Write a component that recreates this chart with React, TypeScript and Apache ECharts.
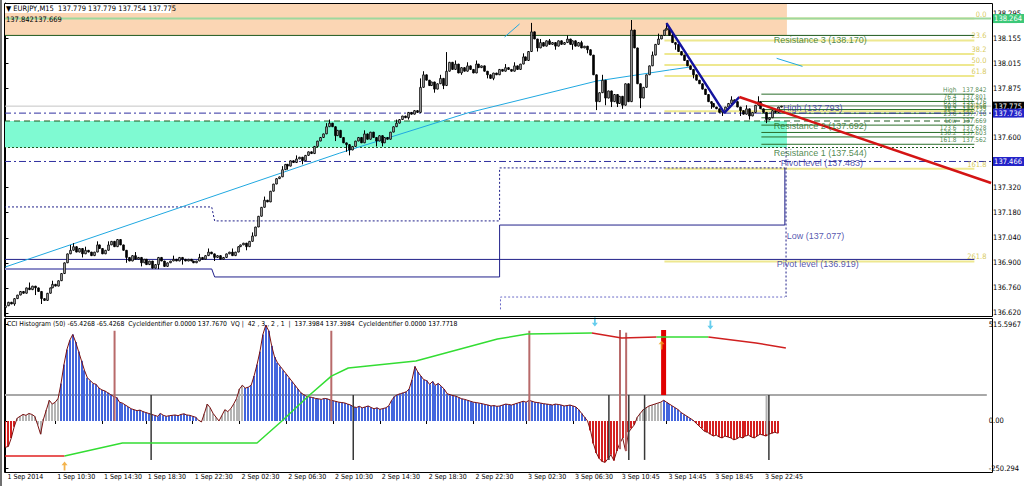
import React, { useEffect, useRef } from "react";
import * as echarts from "echarts";

// ---------------- data ----------------
const closes = [
  136.66, 136.68, 136.67, 136.70, 136.72, 136.74, 136.73, 136.76, 136.75, 136.77,
  136.76, 136.74, 136.70, 136.69, 136.73, 136.76, 136.78, 136.77, 136.80, 136.84,
  136.90, 136.95, 136.97, 136.99, 136.96, 136.98, 136.95, 136.97, 136.96, 136.94,
  136.96, 137.00, 136.98, 136.95, 136.97, 137.00, 137.02, 136.99, 137.03, 137.00,
  136.97, 136.93, 136.91, 136.94, 136.92, 136.93, 136.90, 136.92, 136.89, 136.91,
  136.87, 136.89, 136.93, 136.91, 136.88, 136.90, 136.91, 136.92, 136.91, 136.93,
  136.92, 136.91, 136.92, 136.91, 136.90, 136.91, 136.93, 136.92, 136.94, 136.96,
  136.95, 136.93, 136.94, 136.92, 136.93, 136.95, 136.96, 136.94, 136.96, 136.99,
  137.00, 137.01, 136.99, 137.02, 137.05, 137.10, 137.16, 137.21, 137.25, 137.24,
  137.30, 137.34, 137.37, 137.38, 137.42, 137.45, 137.44, 137.47, 137.46, 137.48,
  137.49, 137.47, 137.50, 137.52, 137.51, 137.55, 137.58, 137.60, 137.62, 137.66,
  137.68, 137.66, 137.61, 137.64, 137.60, 137.57, 137.56, 137.53, 137.55, 137.58,
  137.60, 137.57, 137.62, 137.59, 137.63, 137.60, 137.58, 137.61, 137.57, 137.60,
  137.59, 137.63, 137.66, 137.68, 137.70, 137.72, 137.71, 137.74, 137.73, 137.75,
  137.74, 137.88, 137.95, 137.92, 137.89, 137.91, 137.87, 137.90, 137.93, 137.89,
  137.97, 138.02, 137.98, 138.01, 137.96, 137.99, 137.97, 138.00, 137.98, 137.96,
  138.01, 137.99, 138.00, 137.97, 137.95, 137.93, 137.96, 137.95, 137.98, 137.97,
  137.99, 137.98, 137.97, 138.00, 137.98, 138.01, 138.05, 138.03, 138.08, 138.19,
  138.15, 138.10, 138.13, 138.11, 138.14, 138.12, 138.13, 138.11, 138.14, 138.12,
  138.13, 138.15, 138.12, 138.14, 138.11, 138.13, 138.10, 138.11, 138.09, 138.06,
  137.95, 137.80, 137.85, 137.92, 137.82, 137.86, 137.80, 137.84, 137.79, 137.83,
  137.78, 137.90, 137.80, 138.20, 138.10, 137.90, 137.82, 137.88, 137.95, 138.00,
  138.06, 138.12, 138.15, 138.17, 138.20, 138.21, 138.17, 138.13, 138.12, 138.08,
  138.06, 138.03, 138.00, 137.98, 137.95, 137.92, 137.90, 137.87, 137.84, 137.80,
  137.79, 137.77, 137.76, 137.74, 137.75, 137.77, 137.79, 137.81, 137.80, 137.77,
  137.75, 137.73, 137.76, 137.72, 137.74, 137.78, 137.80, 137.76, 137.74, 137.70,
  137.71, 137.75, 137.74, 137.77, 137.775,
];
const firstOpen = 136.65;
const highSpikes: [number, number][] = [
  [8, 136.79], [16, 136.8], [22, 137.0], [23, 137.01], [27, 136.99], [31, 137.02], [35, 137.02],
  [38, 137.03], [44, 136.96], [57, 136.94], [66, 136.95], [69, 136.98], [77, 136.98], [84, 137.07],
  [88, 137.27], [94, 137.44], [99, 137.5], [109, 137.68], [110, 137.7], [122, 137.64], [133, 137.7],
  [141, 137.93], [142, 137.97], [148, 137.95], [150, 138.077], [153, 138.03], [157, 138.02],
  [160, 138.03], [170, 138.01], [173, 138.02], [176, 138.07], [179, 138.24], [182, 138.15],
  [185, 138.15], [191, 138.17], [196, 138.14], [203, 137.95], [213, 138.256], [220, 138.08],
  [222, 138.18], [225, 138.24], [227, 138.19], [232, 138.03], [247, 137.83], [252, 137.78], [256, 137.83],
];
const lowSpikes: [number, number][] = [
  [0, 136.64], [3, 136.66], [10, 136.72], [12, 136.67], [26, 136.93], [41, 136.9], [46, 136.88],
  [52, 136.865], [60, 136.89], [71, 136.91], [82, 136.97], [96, 137.42], [101, 137.45], [112, 137.58],
  [116, 137.52], [117, 137.5], [126, 137.55], [128, 137.55], [137, 137.7], [146, 137.85], [149, 137.87],
  [155, 137.95], [164, 137.93], [166, 137.92], [181, 138.08], [187, 138.09], [193, 138.09],
  [198, 138.07], [201, 137.753], [204, 137.78], [206, 137.77], [208, 137.77], [210, 137.76],
  [216, 137.764], [228, 138.09], [234, 137.93], [240, 137.76], [244, 137.72], [250, 137.72],
  [253, 137.7], [259, 137.68],
];

const maLine: [number, number][] = [
  [0, 136.877], [113.8, 137.513], [157.3, 137.737], [201.2, 137.915], [226, 137.977], [232.8, 137.993],
];
const cyanShort1: [number, number][] = [[169.9, 138.161], [175, 138.234]];
const cyanShort2: [number, number][] = [[262.5, 138.042], [271.3, 137.997]];
const zigzagLine: [number, number][] = [[225, 138.239], [244.7, 137.737], [249.8, 137.826]];
const redTrend: [number, number][] = [[249.8, 137.826], [335.5, 137.346]];

const greenTop = 138.264;
const bidPrice = 137.775;
const navyLevelA = 137.736;
const navyLevelB = 137.466;
const r3 = 138.17;
const r2 = 137.692;
const r1 = 137.544;
const pivot = 136.919;

const lowStepA: [number, number][] = [[-0.5, 136.866], [70.2, 136.866]];
const lowStepB: [number, number][] = [
  [70.2, 136.866], [71.2, 136.821], [168.2, 136.821], [168.2, 137.111], [265.3, 137.111], [265.3, 137.43],
];
const dottedStep: [number, number][] = [
  [-0.5, 137.212], [70.2, 137.212], [71.2, 137.134], [168.2, 137.134], [168.2, 137.43], [265.3, 137.43],
];
const lowerDotted: [number, number][] = [[168.5, 136.64], [168.5, 136.709], [265.3, 136.709]];
const vertDotted: [number, number][] = [[265.7, 137.544], [265.7, 136.709]];

const fibHigh = 138.264;
const fibLow = 137.746;
const fibRatios = [0, 23.6, 38.2, 50.0, 61.8, 100.0, 161.8, 261.8];
const fibLabels = ["0.0", "23.6", "38.2", "50.0", "61.8", "100.0", "161.8", "261.8"];

const fib2Names = ["High", "76.4", "61.8", "50.0", "38.2", "23.6", "Low", "123.6", "138.2", "161.8"];
const fib2Values = [137.842, 137.801, 137.776, 137.756, 137.735, 137.71, 137.669, 137.628, 137.603, 137.562];

const annoTexts = [
  "Resistance 3 (138.170)", "High (137.793)", "Resistance 2 (137.692)", "Resistance 1 (137.544)",
  "Pivot level (137.483)", "Low (137.077)", "Pivot level (136.919)",
];
const annoPrices = [138.17, 137.793, 137.692, 137.544, 137.483, 137.077, 136.919];
const annoBars = [261.7, 264.8, 261.7, 261.7, 264.1, 266.1, 262.7];
const annoKinds = ["g", "b", "g", "g", "b", "b", "b"];

const priceTicks = [138.295, 138.155, 138.015, 137.875, 137.6, 137.32, 137.18, 137.04, 136.9, 136.76, 136.62];
const cciTicks = [515.5967, 0, -250.294];
const cciTickLabels = ["515.5967", "0.00", "-250.294"];

const timeTickIdx = [0, 17, 33, 48, 64, 80, 96, 112, 128, 144, 160, 178, 194, 210, 226, 242, 259];
const timeTickLabels = [
  "1 Sep 2014", "1 Sep 10:30", "1 Sep 14:30", "1 Sep 18:30", "1 Sep 22:30", "2 Sep 02:30",
  "2 Sep 06:30", "2 Sep 10:30", "2 Sep 14:30", "2 Sep 18:30", "2 Sep 22:30", "3 Sep 02:30",
  "3 Sep 06:30", "3 Sep 10:45", "3 Sep 14:45", "3 Sep 18:45", "3 Sep 22:45",
];

const cci = [
  -140, -135, -90, -30, 15, 25, 35, 30, 40, 35,
  25, -20, -70, 10, 60, 110, 90, 100, 120, 200,
  300, 380, 430, 460, 420, 370, 320, 270, 230, 215,
  200, 195, 175, 165, 160, 150, 140, 130, 125, 100,
  95, 85, 75, 65, 60, 55, 58, 50, 45, 40,
  35, 30, 25, 40, 30, 25, 28, 30, 32, 28,
  35, 38, 32, 30, 25, 20, 5, -5, 40, 90,
  70, 40, 20, 0, 30, 60, 50, 65, 90, 120,
  170, 190, 175, 180, 190, 240, 300, 370, 460, 510,
  480, 400, 340, 310, 290, 270, 250, 230, 210, 190,
  170, 150, 140, 130, 128, 125, 120, 118, 115, 120,
  118, 112, 108, 104, 100, 98, 96, 90, 85, 75,
  72, 78, 70, 75, 80, 72, 65, 70, 62, 66,
  70, 80, 110, 130, 140, 145, 150, 155, 170, 220,
  290, 260, 240, 220, 215, 195, 210, 190, 200, 185,
  170, 145, 140, 135, 132, 125, 118, 115, 110, 105,
  100, 98, 95, 92, 88, 85, 80, 82, 78, 80,
  85, 90, 88, 85, 90, 95, 100, 105, 100, 110,
  105, 100, 98, 95, 92, 90, 88, 85, 90, 88,
  85, 80, 82, 85, 80, 75, 60, 40, 20, 0,
  -50, -120, -170, -200, -215, -220, -200, -180, -210, -160,
  -120, -90, -160, -60, -40, -20, 20, 40, 60, 70,
  80, 85, 90, 95, 100, 110, 100, 90, 80, 70,
  60, 45, 35, 25, 15, 5, -10, -25, -40, -55,
  -60, -70, -80, -75, -85, -90, -80, -85, -90, -100,
  -95, -85, -90, -80, -75, -85, -90, -80, -70, -75,
  -80, -70, -65, -60, -65,
];
// [firstBar, lastBar, colour class] 0 = red, 1 = grey, 2 = blue
const cciColorRuns: [number, number, number][] = [
  [0, 3, 0], [4, 18, 1], [19, 65, 2], [66, 81, 1], [82, 198, 2],
  [199, 215, 0], [216, 224, 1], [225, 235, 2], [236, 264, 0],
];
const cciLevel = 138;
// [bar, from, to, kind] kind 0 = pink spike, 1 = dark down line, 2 = red block, 3 = grey spike
const cciSpikes: [number, number, number, number][] = [
  [37.3, 0, 480, 0], [111.4, 0, 480, 0], [179.1, 0, 480, 0], [210.1, -150, 484, 0], [212.2, -160, 470, 0],
  [49.8, 138, -207, 1], [118.9, 138, -207, 1], [206.3, 138, -207, 1], [213.1, 138, -207, 1],
  [218.5, 138, -207, 1], [261, 138, -207, 1],
  [225, 138, 484, 2], [260.2, -70, 138, 3],
];
const cycleRedA: [number, number][] = [[-0.5, -186], [20.2, -186]];
const cycleGreenA: [number, number][] = [
  [20.2, -186], [40, -117], [86, -117], [94.5, 0], [103.6, 133], [111.4, 239], [117.2, 282],
  [140.3, 319], [168.2, 436], [178.4, 463], [200.5, 468],
];
const cycleRedB: [number, number][] = [[200.5, 468], [210.7, 441], [222.6, 447]];
const cycleGreenB: [number, number][] = [[222.6, 447], [240.3, 447]];
const cycleRedC: [number, number][] = [[240.3, 447], [256.6, 415], [266.8, 388]];
const upArrows: [number, number][] = [[20.2, -240], [224.3, 404]];
const downArrows: [number, number][] = [[201.5, 527], [241, 511]];

// ---------------- layout ----------------
const X0 = -0.5;
const X1 = 335.5;
const LINE_END = 329.8;
const FIB_START = 224.3;
const FIB2_START = 257.3;
const ZONE_END = 266;
const FONT = '"Liberation Sans", Arial, sans-serif';
const SMALL = '"DejaVu Sans Condensed", "Liberation Sans Narrow", "Liberation Sans", sans-serif';

const GREEN = "#1E5A1E";
const NAVY = "#20208A";

function hline(y: number, xa: number, xb: number, color: string, width: number, type: any, z = 5, extra: any = {}) {
  return {
    type: "line", xAxisIndex: 0, yAxisIndex: 0, data: [[xa, y], [xb, y]], symbol: "none", silent: true,
    lineStyle: { color, width, type }, z, animation: false, ...extra,
  };
}
function pline(data: [number, number][], color: string, width: number, type: any, z = 5, grid = 0) {
  return {
    type: "line", xAxisIndex: grid, yAxisIndex: grid, data, symbol: "none", silent: true,
    lineStyle: { color, width, type }, z, animation: false,
  };
}
function boxLabel(text: string, bg: string) {
  return {
    endLabel: {
      show: true, formatter: text, backgroundColor: bg, color: "#fff", padding: [1, 2, 0, 2],
      fontSize: 7.5, fontFamily: SMALL, distance: 1,
    },
  };
}

function buildOption() {
  const candles = closes.map((c, i) => {
    const o = i === 0 ? firstOpen : closes[i - 1];
    let h = Math.max(o, c);
    let l = Math.min(o, c);
    const hs = highSpikes.find((s) => s[0] === i);
    const ls = lowSpikes.find((s) => s[0] === i);
    if (hs) h = Math.max(h, hs[1]);
    if (ls) l = Math.min(l, ls[1]);
    return [i, o, c, l, h];
  });
  const colorOf = (i: number) => {
    const r = cciColorRuns.find((run) => i >= run[0] && i <= run[1]);
    return r ? r[2] : 2;
  };
  const hist = cci.map((v, i) => [i, v, colorOf(i)]);
  const HIST_COLORS = ["#D42020", "#B4B4B4", "#4466DD"];

  const series: any[] = [];

  // bands
  series.push({
    type: "custom", xAxisIndex: 0, yAxisIndex: 0, z: 1, silent: true,
    data: [[X0, r3, ZONE_END, 138.351, 0], [X0, r1, ZONE_END, r2, 1]],
    renderItem: (_p: any, api: any) => {
      const a = api.coord([api.value(0), api.value(3)]);
      const b = api.coord([api.value(2), api.value(1)]);
      return {
        type: "rect", shape: { x: a[0], y: a[1], width: b[0] - a[0], height: b[1] - a[1] },
        style: { fill: api.value(4) === 0 ? "#FBD6B4" : "#7FFAD2" },
      };
    },
  });

  // fib (yellow)
  fibRatios.forEach((r) => {
    const y = fibHigh - (r / 100) * (fibHigh - fibLow);
    series.push(hline(y, FIB_START, LINE_END, "#EEE890", 2, "solid", 3));
  });
  // fib2 (green)
  fib2Values.forEach((v) => series.push(hline(v, FIB2_START, LINE_END, "#2A6E2A", 1, "solid", 4)));

  series.push(hline(greenTop, X0, X1, "#9ED89E", 2, "solid", 4, boxLabel("138.264", "#3CC878")));
  series.push(hline(r3, X0, LINE_END, GREEN, 1, "solid", 5));
  series.push(hline(bidPrice, X0, X1, "#C4C4C4", 1, "solid", 4, boxLabel("137.775", "#000")));
  series.push(hline(navyLevelA, X0, X1, "#3030A0", 1, [7, 3, 2, 3], 5, boxLabel("137.736", "#2323C8")));
  series.push(hline(r2, X0, LINE_END, GREEN, 1, [6, 4], 5));
  series.push(hline(r1, X0, LINE_END, GREEN, 1, [2, 2], 5));
  series.push(hline(navyLevelB, X0, X1, "#3030A0", 1, [7, 3, 2, 3], 5, boxLabel("137.466", "#2323C8")));
  series.push(hline(pivot, X0, LINE_END, NAVY, 1, "solid", 5));

  series.push(pline(lowStepA, "#8C8CC8", 2, "solid"));
  series.push(pline(lowStepB, NAVY, 1, "solid"));
  series.push(pline(dottedStep, NAVY, 1, [2, 2]));
  series.push(pline(lowerDotted, "#6A6AC8", 1, [2, 2]));
  series.push(pline(vertDotted, NAVY, 1, [2, 2]));

  series.push(pline(maLine, "#20A8E0", 1, "solid", 6));
  series.push(pline(cyanShort1, "#20A8E0", 1, "solid", 6));
  series.push(pline(cyanShort2, "#20A8E0", 1, "solid", 6));

  // candles
  series.push({
    type: "custom", xAxisIndex: 0, yAxisIndex: 0, z: 8, silent: true, data: candles,
    renderItem: (_p: any, api: any) => {
      const i = api.value(0), o = api.value(1), c = api.value(2), l = api.value(3), h = api.value(4);
      const po = api.coord([i, o]);
      const pc = api.coord([i, c]);
      const pl = api.coord([i, l]);
      const ph = api.coord([i, h]);
      const x = Math.round(po[0]);
      const top = Math.min(po[1], pc[1]);
      const bot = Math.max(po[1], pc[1]);
      return {
        type: "group",
        children: [
          { type: "line", shape: { x1: x + 0.5, y1: ph[1], x2: x + 0.5, y2: pl[1] }, style: { stroke: "#000", lineWidth: 1 } },
          {
            type: "rect", shape: { x: x - 0.25, y: top, width: 1.5, height: Math.max(bot - top, 1) },
            style: { fill: c > o ? "#fff" : "#000", stroke: "#000", lineWidth: 1 },
          },
        ],
      };
    },
  });

  series.push(pline(zigzagLine, "#14149E", 2.5, "solid", 9));
  series.push(pline(redTrend, "#D41414", 2.5, "solid", 9));

  // annotations
  series.push({
    type: "scatter", xAxisIndex: 0, yAxisIndex: 0, z: 12, silent: true, symbolSize: 1,
    itemStyle: { color: "transparent" },
    data: annoTexts.map((t, k) => ({
      value: [annoBars[k], annoPrices[k]],
      label: {
        show: true, formatter: t, position: [0, 1], align: "left", verticalAlign: "top",
        color: annoKinds[k] === "g" ? "#1E6B1E" : "#2A2A9A", fontSize: 9, fontFamily: FONT,
      },
    })),
  });
  series.push({
    type: "scatter", xAxisIndex: 0, yAxisIndex: 0, z: 12, silent: true, symbolSize: 1,
    itemStyle: { color: "transparent" },
    data: fibRatios.map((r, k) => ({
      value: [334.1, fibHigh - (r / 100) * (fibHigh - fibLow)],
      label: {
        show: true, formatter: fibLabels[k], position: [0, 0], align: "right", verticalAlign: "bottom",
        color: "#CDBB30", fontSize: 7.5, fontFamily: SMALL,
      },
    })),
  });
  series.push({
    type: "scatter", xAxisIndex: 0, yAxisIndex: 0, z: 12, silent: true, symbolSize: 1,
    itemStyle: { color: "transparent" },
    data: fib2Values.flatMap((v, k) => [
      {
        value: [323.9, v],
        label: { show: true, formatter: fib2Names[k], position: [0, 0], align: "right", verticalAlign: "bottom", color: "#1E6B1E", fontSize: 6.5, fontFamily: SMALL },
      },
      {
        value: [334.1, v],
        label: { show: true, formatter: v.toFixed(3), position: [0, 0], align: "right", verticalAlign: "bottom", color: "#1E6B1E", fontSize: 6.5, fontFamily: SMALL },
      },
    ]),
  });

  // ---------- indicator pane ----------
  series.push({
    type: "line", xAxisIndex: 1, yAxisIndex: 1, data: [[X0, cciLevel], [X1, cciLevel]], symbol: "none",
    lineStyle: { color: "#A8A8A8", width: 2 }, z: 2, silent: true,
  });
  series.push({
    type: "custom", xAxisIndex: 1, yAxisIndex: 1, z: 3, silent: true, data: hist,
    renderItem: (_p: any, api: any) => {
      const p0 = api.coord([api.value(0), 0]);
      const p1 = api.coord([api.value(0), api.value(1)]);
      const x = Math.round(p0[0]);
      return {
        type: "rect", shape: { x: x - 1, y: Math.min(p0[1], p1[1]), width: 2, height: Math.abs(p1[1] - p0[1]) },
        style: { fill: HIST_COLORS[api.value(2)] },
      };
    },
  });
  series.push({
    type: "line", xAxisIndex: 1, yAxisIndex: 1, data: cci.map((v, i) => [i, v]), symbol: "none",
    lineStyle: { color: "#7A1010", width: 1 }, z: 4, silent: true,
  });
  series.push({
    type: "custom", xAxisIndex: 1, yAxisIndex: 1, z: 5, silent: true, data: cciSpikes,
    renderItem: (_p: any, api: any) => {
      const a = api.coord([api.value(0), api.value(1)]);
      const b = api.coord([api.value(0), api.value(2)]);
      const k = api.value(3);
      const color = ["#B86A6A", "#383838", "#E00000", "#B0B0B0"][k];
      const w = [2, 1.5, 5, 2][k];
      return { type: "line", shape: { x1: a[0], y1: a[1], x2: b[0], y2: b[1] }, style: { stroke: color, lineWidth: w } };
    },
  });
  series.push(pline(cycleRedA, "#E02020", 1.5, "solid", 6, 1));
  series.push(pline(cycleGreenA, "#33DD33", 1.5, "solid", 6, 1));
  series.push(pline(cycleRedB, "#D02020", 1.5, "solid", 6, 1));
  series.push(pline(cycleGreenB, "#33DD33", 1.5, "solid", 6, 1));
  series.push(pline(cycleRedC, "#D02020", 1.5, "solid", 6, 1));
  series.push({
    type: "scatter", xAxisIndex: 1, yAxisIndex: 1, z: 7, silent: true, data: upArrows,
    symbol: "path://M5,0 L10,5 L6.5,5 L6.5,12 L3.5,12 L3.5,5 L0,5 Z", symbolSize: [6, 9],
    itemStyle: { color: "#F0A020" },
  });
  series.push({
    type: "scatter", xAxisIndex: 1, yAxisIndex: 1, z: 7, silent: true, data: downArrows,
    symbol: "path://M5,12 L10,7 L6.5,7 L6.5,0 L3.5,0 L3.5,7 L0,7 Z", symbolSize: [6, 9],
    itemStyle: { color: "#40C0E8" },
  });

  const graphic: any[] = [
    { type: "rect", z: 100, shape: { x: 4.5, y: 3.5, width: 988, height: 313 }, style: { fill: "none", stroke: "#000", lineWidth: 1 } },
    { type: "rect", z: 100, shape: { x: 4.5, y: 318.5, width: 988, height: 154 }, style: { fill: "none", stroke: "#000", lineWidth: 1 } },
    { type: "rect", z: 100, shape: { x: 0, y: 0, width: 2, height: 486 }, style: { fill: "#707070" } },
    { type: "rect", z: 100, shape: { x: 5, y: 4, width: 166, height: 9 }, style: { fill: "#fff" } },
    {
      type: "text", z: 101, x: 6, y: 8.5,
      style: { text: "▼ EURJPY,M15  137.779 137.779 137.754 137.775", fill: "#000", fontSize: 7.5, fontFamily: SMALL, verticalAlign: "middle" },
    },
    {
      type: "text", z: 101, x: 6, y: 19,
      style: { text: "137.842137.669", fill: "#000", fontSize: 7.5, fontFamily: SMALL, verticalAlign: "middle" },
    },
    {
      type: "text", z: 101, x: 7, y: 323.5,
      style: {
        text: "CCI Histogram (50) -65.4268 -65.4268  CycleIdentifier 0.0000 137.7670  VQ |  42 , 3 , 2 , 1  |  137.3984 137.3984  CycleIdentifier 0.0000 137.7718",
        fill: "#000", fontSize: 6.8, fontFamily: SMALL, verticalAlign: "middle",
      },
    },
  ];

  return {
    animation: false,
    backgroundColor: "#fff",
    grid: [
      { left: 4, top: 3, width: 988, height: 313 },
      { left: 4, top: 318, width: 988, height: 154 },
    ],
    xAxis: [
      { gridIndex: 0, type: "value", min: X0, max: X1, show: false },
      {
        gridIndex: 1, type: "value", min: X0, max: X1, position: "bottom",
        axisLine: { show: false },
        axisTick: { show: true, customValues: timeTickIdx, length: 3, lineStyle: { color: "#000" } },
        axisLabel: {
          customValues: timeTickIdx,
          formatter: (v: number) => timeTickLabels[timeTickIdx.indexOf(v)] ?? "",
          align: "left", margin: 1, padding: [0, 0, 0, 2], fontSize: 7, color: "#000", fontFamily: SMALL,
        },
        splitLine: { show: false },
      },
    ],
    yAxis: [
      {
        gridIndex: 0, type: "value", min: 136.603, max: 138.351, position: "right",
        axisLine: { show: true, lineStyle: { color: "#000" } },
        axisTick: { show: true, customValues: priceTicks, length: 3, lineStyle: { color: "#000" } },
        axisLabel: { customValues: priceTicks, formatter: (v: number) => v.toFixed(3), margin: 2, fontSize: 7.5, color: "#000", fontFamily: SMALL },
        splitLine: { show: false },
      },
      {
        gridIndex: 1, type: "value", min: -271.3, max: 547.9, position: "right",
        axisLine: { show: true, lineStyle: { color: "#000" } },
        axisTick: { show: true, customValues: cciTicks, length: 3, lineStyle: { color: "#000" } },
        axisLabel: {
          customValues: cciTicks,
          formatter: (v: number) => cciTickLabels[cciTicks.indexOf(v)] ?? "",
          margin: 2, fontSize: 7.5, color: "#000", fontFamily: SMALL,
        },
        splitLine: { show: false },
      },
    ],
    series,
    graphic,
  };
}

export default function App() {
  const ref = useRef<HTMLDivElement>(null);
  useEffect(() => {
    const chart = echarts.init(ref.current!, null, { renderer: "svg", width: 1024, height: 486 });
    chart.setOption(buildOption() as any);
    return () => chart.dispose();
  }, []);
  return (
    <div
      ref={ref}
      style={{ position: "fixed", left: 0, top: 0, width: 1024, height: 486, background: "#fff" }}
    />
  );
}
